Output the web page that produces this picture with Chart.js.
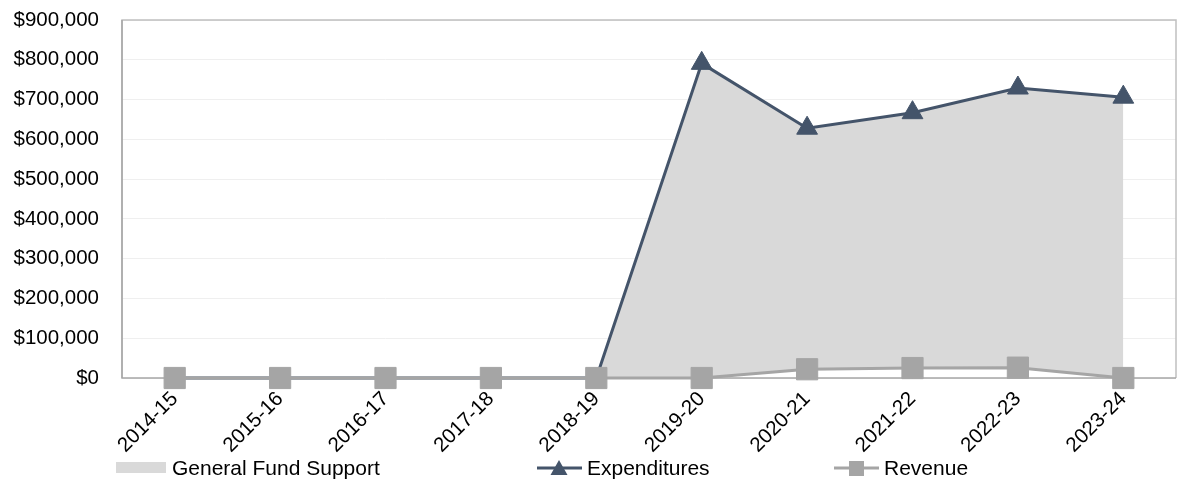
<!DOCTYPE html>
<html><head><meta charset="utf-8">
<script src="https://cdn.jsdelivr.net/npm/chart.js@4/dist/chart.umd.min.js"></script>
<style>html,body{margin:0;padding:0;background:#fff;}#wrap{width:1177px;height:482px;position:relative;}</style>
</head><body><div id="wrap"><canvas id="c" width="1177" height="482"></canvas></div>
<script>
const categories = ['2014-15','2015-16','2016-17','2017-18','2018-19','2019-20','2020-21','2021-22','2022-23','2023-24'];
const expenditures = [0,0,0,0,0,791000,628000,667000,729000,706000];
const revenue = [0,0,0,0,0,0,22000,25000,26000,0];
const generalFundSupport = expenditures; // area drawn down to revenue
const yTickValues = [0,100000,200000,300000,400000,500000,600000,700000,800000,900000];
const legendLabels = ['General Fund Support','Expenditures','Revenue'];

const FONT = '"Liberation Sans", Arial, sans-serif';
const C_EXP = '#44546a', C_REV = '#a5a5a5', C_FILL = '#d9d9d9';

const framePlugin = {
  id: 'frame',
  beforeDatasetsDraw(chart) {
    const {ctx, chartArea: a} = chart;
    ctx.save();
    ctx.strokeStyle = '#c0c0c0'; ctx.lineWidth = 1.5;
    ctx.beginPath();
    ctx.moveTo(a.left, a.bottom); ctx.lineTo(a.left, a.top); ctx.lineTo(a.right, a.top); ctx.lineTo(a.right, a.bottom);
    ctx.stroke();
    ctx.strokeStyle = '#a6a6a6'; ctx.lineWidth = 1.5;
    ctx.beginPath(); ctx.moveTo(a.left, a.top); ctx.lineTo(a.left, a.bottom); ctx.lineTo(a.right, a.bottom); ctx.stroke();
    ctx.restore();
  },
  afterDraw(chart) {
    const ctx = chart.ctx;
    ctx.save();
    ctx.font = '21px ' + FONT;
    ctx.fillStyle = '#000'; ctx.textBaseline = 'middle'; ctx.textAlign = 'left';
    const y = 468;
    ctx.fillStyle = C_FILL; ctx.fillRect(116, 462, 50, 11);
    ctx.fillStyle = '#000'; ctx.fillText(legendLabels[0], 172, y + 1);
    ctx.strokeStyle = C_EXP; ctx.lineWidth = 3;
    ctx.beginPath(); ctx.moveTo(537, y); ctx.lineTo(582, y); ctx.stroke();
    ctx.fillStyle = C_EXP; ctx.beginPath();
    ctx.moveTo(559, 460); ctx.lineTo(567.5, 475); ctx.lineTo(550.5, 475); ctx.closePath(); ctx.fill();
    ctx.fillStyle = '#000'; ctx.fillText(legendLabels[1], 587, y + 1);
    ctx.strokeStyle = C_REV; ctx.lineWidth = 3;
    ctx.beginPath(); ctx.moveTo(834, y); ctx.lineTo(879, y); ctx.stroke();
    ctx.fillStyle = C_REV; ctx.fillRect(849, 461, 15, 15);
    ctx.fillStyle = '#000'; ctx.fillText(legendLabels[2], 884, y + 1);
    ctx.restore();
  }
};

new Chart(document.getElementById('c'), {
  type: 'line',
  data: {
    labels: categories,
    datasets: [
      { label: legendLabels[0], data: generalFundSupport, borderWidth: 0, borderColor: 'rgba(0,0,0,0)',
        backgroundColor: C_FILL, pointRadius: 0, fill: 2, order: 2, tension: 0 },
      { label: legendLabels[1], data: expenditures, borderColor: C_EXP, backgroundColor: C_EXP, borderWidth: 3,
        pointStyle: 'triangle', pointRadius: c => (c.raw === 0 ? 0 : 12), pointBorderWidth: 1,
        pointBackgroundColor: C_EXP, pointBorderColor: C_EXP,
        fill: false, order: 1, clip: false, tension: 0 },
      { label: legendLabels[2], data: revenue, borderColor: C_REV, backgroundColor: C_REV, borderWidth: 3,
        pointStyle: 'rect', pointRadius: 15, pointBorderWidth: 1, pointBackgroundColor: C_REV, pointBorderColor: C_REV,
        fill: false, order: 0, clip: false, tension: 0 }
    ]
  },
  options: {
    responsive: false, animation: false, devicePixelRatio: 1,
    layout: { autoPadding: false, padding: { top: 20, right: 1, left: 0, bottom: 0 } },
    plugins: { legend: { display: false }, tooltip: { enabled: false } },
    scales: {
      x: {
        offset: true,
        grid: { display: false, drawTicks: false },
        border: { display: false },
        ticks: { color: '#000', font: { family: FONT, size: 20.5 }, minRotation: 45, maxRotation: 45, padding: 9, autoSkip: false },
        afterFit(s) { s.height = 104; s.paddingLeft = 0; s.paddingRight = 0; }
      },
      y: {
        min: 0, max: 900000,
        afterBuildTicks(s) { s.ticks = yTickValues.map(v => ({ value: v })); },
        grid: { color: '#efefef', lineWidth: 1, drawTicks: false },
        border: { display: false },
        ticks: { color: '#000', font: { family: FONT, size: 20.5 }, padding: 23,
          callback: v => '$' + Number(v).toLocaleString('en-US') },
        afterFit(s) { s.width = 122; s.paddingTop = 0; s.paddingBottom = 0; }
      }
    }
  },
  plugins: [framePlugin]
});
</script></body></html>
